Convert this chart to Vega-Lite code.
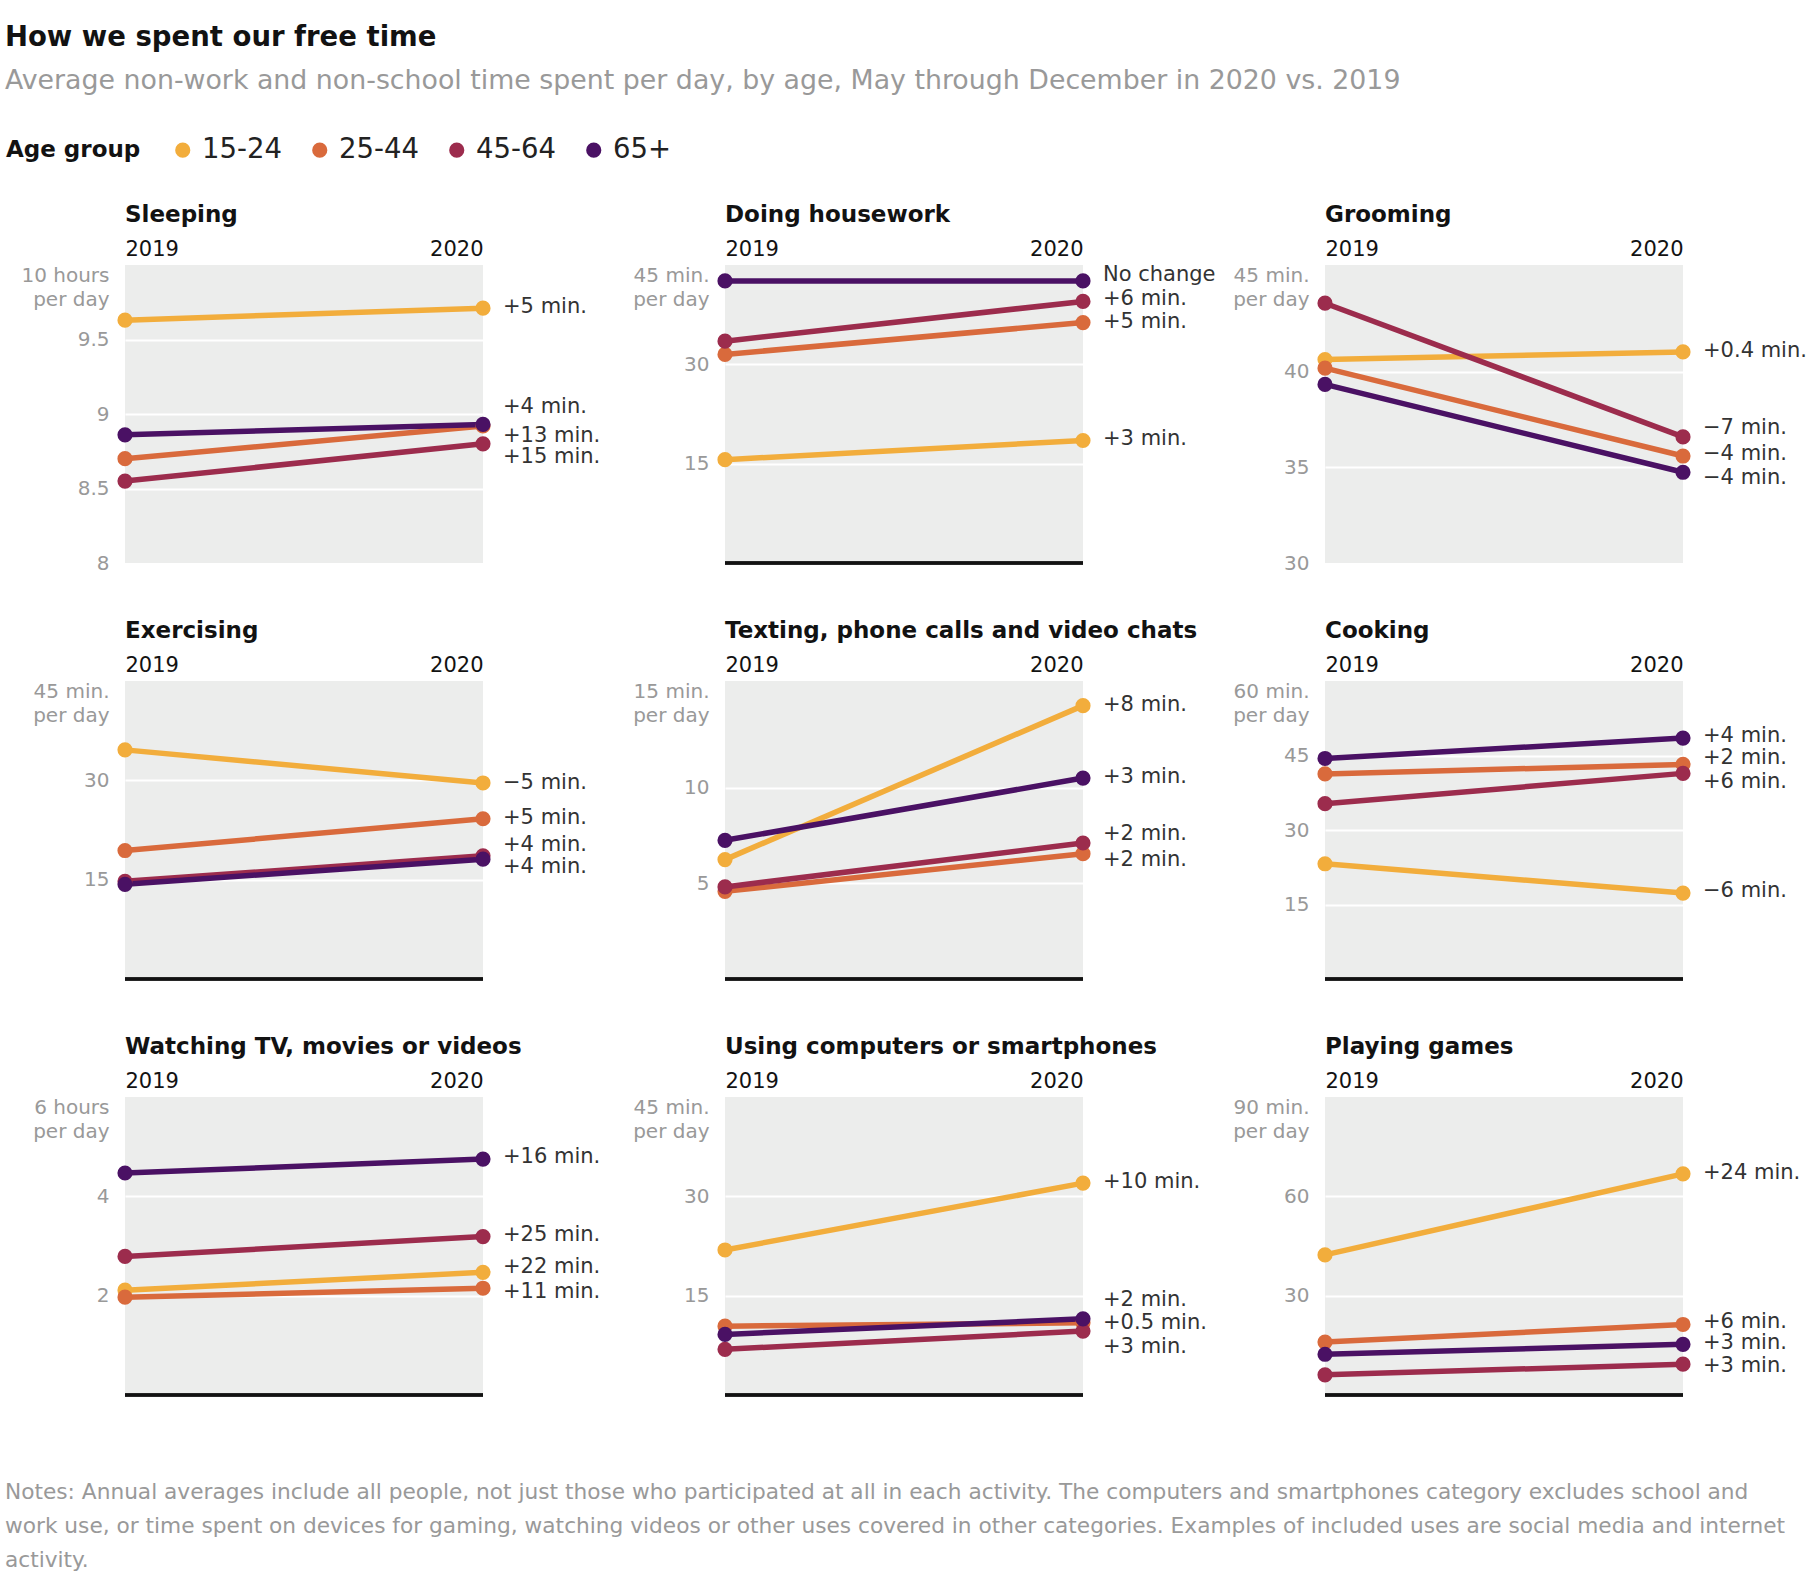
{
  "$schema": "https://vega.github.io/schema/vega-lite/v6.json",
  "background": "white",
  "padding": {"left": 4, "top": 23, "right": 4, "bottom": 6},
  "title": {
    "text": "How we spent our free time",
    "subtitle": "Average non-work and non-school time spent per day, by age, May through December in 2020 vs. 2019",
    "anchor": "start", "frame": "bounds", "fontSize": 27.5, "fontWeight": "bold", "color": "#121212",
    "subtitleFontSize": 26.8, "subtitleColor": "#999999", "subtitlePadding": 17, "offset": 41
  },
  "datasets": {
    "rows": [
      {"activity": "Sleeping", "age": "15-24", "year": "2019", "value": 9.63},
      {"activity": "Sleeping", "age": "15-24", "year": "2020", "value": 9.71, "note": "+5 min.", "noteAt": 9.717},
      {"activity": "Sleeping", "age": "25-44", "year": "2019", "value": 8.70},
      {"activity": "Sleeping", "age": "25-44", "year": "2020", "value": 8.92, "note": "+13 min.", "noteAt": 8.855},
      {"activity": "Sleeping", "age": "45-64", "year": "2019", "value": 8.55},
      {"activity": "Sleeping", "age": "45-64", "year": "2020", "value": 8.80, "note": "+15 min.", "noteAt": 8.711},
      {"activity": "Sleeping", "age": "65+", "year": "2019", "value": 8.86},
      {"activity": "Sleeping", "age": "65+", "year": "2020", "value": 8.93, "note": "+4 min.", "noteAt": 9.044},

      {"activity": "Housework", "age": "15-24", "year": "2019", "value": 15.6},
      {"activity": "Housework", "age": "15-24", "year": "2020", "value": 18.5, "note": "+3 min.", "noteAt": 18.75},
      {"activity": "Housework", "age": "25-44", "year": "2019", "value": 31.5},
      {"activity": "Housework", "age": "25-44", "year": "2020", "value": 36.3, "note": "+5 min.", "noteAt": 36.4},
      {"activity": "Housework", "age": "45-64", "year": "2019", "value": 33.5},
      {"activity": "Housework", "age": "45-64", "year": "2020", "value": 39.5, "note": "+6 min.", "noteAt": 39.9},
      {"activity": "Housework", "age": "65+", "year": "2019", "value": 42.6},
      {"activity": "Housework", "age": "65+", "year": "2020", "value": 42.6, "note": "No change", "noteAt": 43.5},

      {"activity": "Grooming", "age": "15-24", "year": "2019", "value": 40.65},
      {"activity": "Grooming", "age": "15-24", "year": "2020", "value": 41.05, "note": "+0.4 min.", "noteAt": 41.1},
      {"activity": "Grooming", "age": "25-44", "year": "2019", "value": 40.2},
      {"activity": "Grooming", "age": "25-44", "year": "2020", "value": 35.6, "note": "−4 min.", "noteAt": 35.73},
      {"activity": "Grooming", "age": "45-64", "year": "2019", "value": 43.6},
      {"activity": "Grooming", "age": "45-64", "year": "2020", "value": 36.6, "note": "−7 min.", "noteAt": 37.07},
      {"activity": "Grooming", "age": "65+", "year": "2019", "value": 39.35},
      {"activity": "Grooming", "age": "65+", "year": "2020", "value": 34.75, "note": "−4 min.", "noteAt": 34.47},

      {"activity": "Exercising", "age": "15-24", "year": "2019", "value": 34.6},
      {"activity": "Exercising", "age": "15-24", "year": "2020", "value": 29.6, "note": "−5 min.", "noteAt": 29.6},
      {"activity": "Exercising", "age": "25-44", "year": "2019", "value": 19.4},
      {"activity": "Exercising", "age": "25-44", "year": "2020", "value": 24.2, "note": "+5 min.", "noteAt": 24.3},
      {"activity": "Exercising", "age": "45-64", "year": "2019", "value": 14.75},
      {"activity": "Exercising", "age": "45-64", "year": "2020", "value": 18.6, "note": "+4 min.", "noteAt": 20.3},
      {"activity": "Exercising", "age": "65+", "year": "2019", "value": 14.3},
      {"activity": "Exercising", "age": "65+", "year": "2020", "value": 18.1, "note": "+4 min.", "noteAt": 16.9},

      {"activity": "Texting", "age": "15-24", "year": "2019", "value": 6.25},
      {"activity": "Texting", "age": "15-24", "year": "2020", "value": 14.31, "note": "+8 min.", "noteAt": 14.36},
      {"activity": "Texting", "age": "25-44", "year": "2019", "value": 4.59},
      {"activity": "Texting", "age": "25-44", "year": "2020", "value": 6.56, "note": "+2 min.", "noteAt": 6.25},
      {"activity": "Texting", "age": "45-64", "year": "2019", "value": 4.82},
      {"activity": "Texting", "age": "45-64", "year": "2020", "value": 7.12, "note": "+2 min.", "noteAt": 7.61},
      {"activity": "Texting", "age": "65+", "year": "2019", "value": 7.26},
      {"activity": "Texting", "age": "65+", "year": "2020", "value": 10.52, "note": "+3 min.", "noteAt": 10.58},

      {"activity": "Cooking", "age": "15-24", "year": "2019", "value": 23.2},
      {"activity": "Cooking", "age": "15-24", "year": "2020", "value": 17.3, "note": "−6 min.", "noteAt": 17.7},
      {"activity": "Cooking", "age": "25-44", "year": "2019", "value": 41.3},
      {"activity": "Cooking", "age": "25-44", "year": "2020", "value": 43.2, "note": "+2 min.", "noteAt": 44.4},
      {"activity": "Cooking", "age": "45-64", "year": "2019", "value": 35.3},
      {"activity": "Cooking", "age": "45-64", "year": "2020", "value": 41.4, "note": "+6 min.", "noteAt": 39.7},
      {"activity": "Cooking", "age": "65+", "year": "2019", "value": 44.4},
      {"activity": "Cooking", "age": "65+", "year": "2020", "value": 48.5, "note": "+4 min.", "noteAt": 48.9},

      {"activity": "TV", "age": "15-24", "year": "2019", "value": 2.11},
      {"activity": "TV", "age": "15-24", "year": "2020", "value": 2.47, "note": "+22 min.", "noteAt": 2.57},
      {"activity": "TV", "age": "25-44", "year": "2019", "value": 1.97},
      {"activity": "TV", "age": "25-44", "year": "2020", "value": 2.15, "note": "+11 min.", "noteAt": 2.07},
      {"activity": "TV", "age": "45-64", "year": "2019", "value": 2.79},
      {"activity": "TV", "age": "45-64", "year": "2020", "value": 3.19, "note": "+25 min.", "noteAt": 3.22},
      {"activity": "TV", "age": "65+", "year": "2019", "value": 4.47},
      {"activity": "TV", "age": "65+", "year": "2020", "value": 4.75, "note": "+16 min.", "noteAt": 4.79},

      {"activity": "Computers", "age": "15-24", "year": "2019", "value": 21.9},
      {"activity": "Computers", "age": "15-24", "year": "2020", "value": 32.0, "note": "+10 min.", "noteAt": 32.1},
      {"activity": "Computers", "age": "25-44", "year": "2019", "value": 10.4},
      {"activity": "Computers", "age": "25-44", "year": "2020", "value": 10.9, "note": "+0.5 min.", "noteAt": 10.9},
      {"activity": "Computers", "age": "45-64", "year": "2019", "value": 6.9},
      {"activity": "Computers", "age": "45-64", "year": "2020", "value": 9.65, "note": "+3 min.", "noteAt": 7.3},
      {"activity": "Computers", "age": "65+", "year": "2019", "value": 9.15},
      {"activity": "Computers", "age": "65+", "year": "2020", "value": 11.5, "note": "+2 min.", "noteAt": 14.4},

      {"activity": "Games", "age": "15-24", "year": "2019", "value": 42.3},
      {"activity": "Games", "age": "15-24", "year": "2020", "value": 66.8, "note": "+24 min.", "noteAt": 67.1},
      {"activity": "Games", "age": "25-44", "year": "2019", "value": 16.0},
      {"activity": "Games", "age": "25-44", "year": "2020", "value": 21.3, "note": "+6 min.", "noteAt": 22.0},
      {"activity": "Games", "age": "45-64", "year": "2019", "value": 6.1},
      {"activity": "Games", "age": "45-64", "year": "2020", "value": 9.3, "note": "+3 min.", "noteAt": 8.7},
      {"activity": "Games", "age": "65+", "year": "2019", "value": 12.3},
      {"activity": "Games", "age": "65+", "year": "2020", "value": 15.3, "note": "+3 min.", "noteAt": 15.6}
    ]
  },
  "vconcat": [
    {
      "title": {
        "text": [
          "Notes: Annual averages include all people, not just those who participated at all in each activity. The computers and smartphones category excludes school and",
          "work use, or time spent on devices for gaming, watching videos or other uses covered in other categories. Examples of included uses are social media and internet",
          "activity."
        ],
        "orient": "bottom", "anchor": "start", "frame": "bounds", "fontSize": 21.7, "fontWeight": "normal",
        "color": "#999999", "lineHeight": 34, "offset": 86, "dx": -16
      },
      "columns": 3,
      "spacing": {"row": 118, "column": 242},
      "bounds": "flush",
      "concat": [
        {
          "title": "Sleeping",
          "width": 358, "height": 298,
          "data": {"name": "rows"},
          "transform": [{"filter": "datum.activity == 'Sleeping'"}],
          "encoding": {
            "x": {"field": "year", "type": "ordinal", "title": null, "scale": {"type": "point", "padding": 0},
                  "axis": {"orient": "top", "labelAlign": {"condition": {"test": "datum.value == '2019'", "value": "left"}, "value": "right"}}},
            "y": {"field": "value", "type": "quantitative", "title": null, "scale": {"domain": [8, 10], "zero": false, "nice": false},
                  "axis": {"values": [8, 8.5, 9, 9.5, 10],
                           "labelExpr": "datum.value == 10 ? ['10 hours', 'per day'] : '' + datum.value",
                           "labelBaseline": {"condition": {"test": "datum.value == 10", "value": "top"}, "value": "middle"},
                           "gridOpacity": {"condition": {"test": "datum.value == 10 || datum.value == 8", "value": 0}, "value": 1}}},
            "color": {"field": "age", "type": "nominal",
                      "legend": {"title": "Age group", "orient": "none", "legendX": -119, "legendY": -129, "direction": "horizontal", "titleOrient": "left"}}
          },
          "layer": [
            {"mark": {"type": "line", "strokeWidth": 5.5}},
            {"mark": {"type": "circle", "size": 230, "opacity": 1}},
            {"transform": [{"filter": "datum.year == '2020'"}],
             "mark": {"type": "text", "align": "left", "baseline": "middle", "dx": 20, "fontSize": 21},
             "encoding": {"y": {"field": "noteAt", "type": "quantitative", "title": null, "scale": {"domain": [8, 10], "zero": false, "nice": false}},
                          "text": {"field": "note"}, "color": {"value": "#333333"}}}
          ]
        },
        {
          "title": "Doing housework",
          "width": 358, "height": 298,
          "data": {"name": "rows"},
          "transform": [{"filter": "datum.activity == 'Housework'"}],
          "encoding": {
            "x": {"field": "year", "type": "ordinal", "title": null, "scale": {"type": "point", "padding": 0},
                  "axis": {"orient": "top", "labelAlign": {"condition": {"test": "datum.value == '2019'", "value": "left"}, "value": "right"}}},
            "y": {"field": "value", "type": "quantitative", "title": null, "scale": {"domain": [0, 45], "nice": false},
                  "axis": {"values": [15, 30, 45],
                           "labelExpr": "datum.value == 45 ? ['45 min.', 'per day'] : '' + datum.value",
                           "labelBaseline": {"condition": {"test": "datum.value == 45", "value": "top"}, "value": "middle"},
                           "gridOpacity": {"condition": {"test": "datum.value == 45", "value": 0}, "value": 1}}},
            "color": {"field": "age", "type": "nominal", "legend": null}
          },
          "layer": [
            {"mark": {"type": "rule", "strokeWidth": 2.5},
             "encoding": {"x": {"datum": "2019", "type": "ordinal"}, "x2": {"datum": "2020"}, "y": {"datum": 0}, "color": {"value": "#121212"}}},
            {"mark": {"type": "line", "strokeWidth": 5.5}},
            {"mark": {"type": "circle", "size": 230, "opacity": 1}},
            {"transform": [{"filter": "datum.year == '2020'"}],
             "mark": {"type": "text", "align": "left", "baseline": "middle", "dx": 20, "fontSize": 21},
             "encoding": {"y": {"field": "noteAt", "type": "quantitative", "title": null, "scale": {"domain": [0, 45], "nice": false}},
                          "text": {"field": "note"}, "color": {"value": "#333333"}}}
          ]
        },
        {
          "title": "Grooming",
          "width": 358, "height": 298,
          "data": {"name": "rows"},
          "transform": [{"filter": "datum.activity == 'Grooming'"}],
          "encoding": {
            "x": {"field": "year", "type": "ordinal", "title": null, "scale": {"type": "point", "padding": 0},
                  "axis": {"orient": "top", "labelAlign": {"condition": {"test": "datum.value == '2019'", "value": "left"}, "value": "right"}}},
            "y": {"field": "value", "type": "quantitative", "title": null, "scale": {"domain": [30, 45.6], "zero": false, "nice": false},
                  "axis": {"values": [30, 35, 40, 45.6],
                           "labelExpr": "datum.value > 45 ? ['45 min.', 'per day'] : '' + datum.value",
                           "labelBaseline": {"condition": {"test": "datum.value > 45", "value": "top"}, "value": "middle"},
                           "gridOpacity": {"condition": {"test": "datum.value > 45 || datum.value == 30", "value": 0}, "value": 1}}},
            "color": {"field": "age", "type": "nominal", "legend": null}
          },
          "layer": [
            {"mark": {"type": "line", "strokeWidth": 5.5}},
            {"mark": {"type": "circle", "size": 230, "opacity": 1}},
            {"transform": [{"filter": "datum.year == '2020'"}],
             "mark": {"type": "text", "align": "left", "baseline": "middle", "dx": 20, "fontSize": 21},
             "encoding": {"y": {"field": "noteAt", "type": "quantitative", "title": null, "scale": {"domain": [30, 45.6], "zero": false, "nice": false}},
                          "text": {"field": "note"}, "color": {"value": "#333333"}}}
          ]
        },
        {
          "title": "Exercising",
          "width": 358, "height": 298,
          "data": {"name": "rows"},
          "transform": [{"filter": "datum.activity == 'Exercising'"}],
          "encoding": {
            "x": {"field": "year", "type": "ordinal", "title": null, "scale": {"type": "point", "padding": 0},
                  "axis": {"orient": "top", "labelAlign": {"condition": {"test": "datum.value == '2019'", "value": "left"}, "value": "right"}}},
            "y": {"field": "value", "type": "quantitative", "title": null, "scale": {"domain": [0, 45], "nice": false},
                  "axis": {"values": [15, 30, 45],
                           "labelExpr": "datum.value == 45 ? ['45 min.', 'per day'] : '' + datum.value",
                           "labelBaseline": {"condition": {"test": "datum.value == 45", "value": "top"}, "value": "middle"},
                           "gridOpacity": {"condition": {"test": "datum.value == 45", "value": 0}, "value": 1}}},
            "color": {"field": "age", "type": "nominal", "legend": null}
          },
          "layer": [
            {"mark": {"type": "rule", "strokeWidth": 2.5},
             "encoding": {"x": {"datum": "2019", "type": "ordinal"}, "x2": {"datum": "2020"}, "y": {"datum": 0}, "color": {"value": "#121212"}}},
            {"mark": {"type": "line", "strokeWidth": 5.5}},
            {"mark": {"type": "circle", "size": 230, "opacity": 1}},
            {"transform": [{"filter": "datum.year == '2020'"}],
             "mark": {"type": "text", "align": "left", "baseline": "middle", "dx": 20, "fontSize": 21},
             "encoding": {"y": {"field": "noteAt", "type": "quantitative", "title": null, "scale": {"domain": [0, 45], "nice": false}},
                          "text": {"field": "note"}, "color": {"value": "#333333"}}}
          ]
        },
        {
          "title": "Texting, phone calls and video chats",
          "width": 358, "height": 298,
          "data": {"name": "rows"},
          "transform": [{"filter": "datum.activity == 'Texting'"}],
          "encoding": {
            "x": {"field": "year", "type": "ordinal", "title": null, "scale": {"type": "point", "padding": 0},
                  "axis": {"orient": "top", "labelAlign": {"condition": {"test": "datum.value == '2019'", "value": "left"}, "value": "right"}}},
            "y": {"field": "value", "type": "quantitative", "title": null, "scale": {"domain": [0, 15.6], "nice": false},
                  "axis": {"values": [5, 10, 15.6],
                           "labelExpr": "datum.value > 15 ? ['15 min.', 'per day'] : '' + datum.value",
                           "labelBaseline": {"condition": {"test": "datum.value > 15", "value": "top"}, "value": "middle"},
                           "gridOpacity": {"condition": {"test": "datum.value > 15", "value": 0}, "value": 1}}},
            "color": {"field": "age", "type": "nominal", "legend": null}
          },
          "layer": [
            {"mark": {"type": "rule", "strokeWidth": 2.5},
             "encoding": {"x": {"datum": "2019", "type": "ordinal"}, "x2": {"datum": "2020"}, "y": {"datum": 0}, "color": {"value": "#121212"}}},
            {"mark": {"type": "line", "strokeWidth": 5.5}},
            {"mark": {"type": "circle", "size": 230, "opacity": 1}},
            {"transform": [{"filter": "datum.year == '2020'"}],
             "mark": {"type": "text", "align": "left", "baseline": "middle", "dx": 20, "fontSize": 21},
             "encoding": {"y": {"field": "noteAt", "type": "quantitative", "title": null, "scale": {"domain": [0, 15.6], "nice": false}},
                          "text": {"field": "note"}, "color": {"value": "#333333"}}}
          ]
        },
        {
          "title": "Cooking",
          "width": 358, "height": 298,
          "data": {"name": "rows"},
          "transform": [{"filter": "datum.activity == 'Cooking'"}],
          "encoding": {
            "x": {"field": "year", "type": "ordinal", "title": null, "scale": {"type": "point", "padding": 0},
                  "axis": {"orient": "top", "labelAlign": {"condition": {"test": "datum.value == '2019'", "value": "left"}, "value": "right"}}},
            "y": {"field": "value", "type": "quantitative", "title": null, "scale": {"domain": [0, 60], "nice": false},
                  "axis": {"values": [15, 30, 45, 60],
                           "labelExpr": "datum.value == 60 ? ['60 min.', 'per day'] : '' + datum.value",
                           "labelBaseline": {"condition": {"test": "datum.value == 60", "value": "top"}, "value": "middle"},
                           "gridOpacity": {"condition": {"test": "datum.value == 60", "value": 0}, "value": 1}}},
            "color": {"field": "age", "type": "nominal", "legend": null}
          },
          "layer": [
            {"mark": {"type": "rule", "strokeWidth": 2.5},
             "encoding": {"x": {"datum": "2019", "type": "ordinal"}, "x2": {"datum": "2020"}, "y": {"datum": 0}, "color": {"value": "#121212"}}},
            {"mark": {"type": "line", "strokeWidth": 5.5}},
            {"mark": {"type": "circle", "size": 230, "opacity": 1}},
            {"transform": [{"filter": "datum.year == '2020'"}],
             "mark": {"type": "text", "align": "left", "baseline": "middle", "dx": 20, "fontSize": 21},
             "encoding": {"y": {"field": "noteAt", "type": "quantitative", "title": null, "scale": {"domain": [0, 60], "nice": false}},
                          "text": {"field": "note"}, "color": {"value": "#333333"}}}
          ]
        },
        {
          "title": "Watching TV, movies or videos",
          "width": 358, "height": 298,
          "data": {"name": "rows"},
          "transform": [{"filter": "datum.activity == 'TV'"}],
          "encoding": {
            "x": {"field": "year", "type": "ordinal", "title": null, "scale": {"type": "point", "padding": 0},
                  "axis": {"orient": "top", "labelAlign": {"condition": {"test": "datum.value == '2019'", "value": "left"}, "value": "right"}}},
            "y": {"field": "value", "type": "quantitative", "title": null, "scale": {"domain": [0, 6], "nice": false},
                  "axis": {"values": [2, 4, 6],
                           "labelExpr": "datum.value == 6 ? ['6 hours', 'per day'] : '' + datum.value",
                           "labelBaseline": {"condition": {"test": "datum.value == 6", "value": "top"}, "value": "middle"},
                           "gridOpacity": {"condition": {"test": "datum.value == 6", "value": 0}, "value": 1}}},
            "color": {"field": "age", "type": "nominal", "legend": null}
          },
          "layer": [
            {"mark": {"type": "rule", "strokeWidth": 2.5},
             "encoding": {"x": {"datum": "2019", "type": "ordinal"}, "x2": {"datum": "2020"}, "y": {"datum": 0}, "color": {"value": "#121212"}}},
            {"mark": {"type": "line", "strokeWidth": 5.5}},
            {"mark": {"type": "circle", "size": 230, "opacity": 1}},
            {"transform": [{"filter": "datum.year == '2020'"}],
             "mark": {"type": "text", "align": "left", "baseline": "middle", "dx": 20, "fontSize": 21},
             "encoding": {"y": {"field": "noteAt", "type": "quantitative", "title": null, "scale": {"domain": [0, 6], "nice": false}},
                          "text": {"field": "note"}, "color": {"value": "#333333"}}}
          ]
        },
        {
          "title": "Using computers or smartphones",
          "width": 358, "height": 298,
          "data": {"name": "rows"},
          "transform": [{"filter": "datum.activity == 'Computers'"}],
          "encoding": {
            "x": {"field": "year", "type": "ordinal", "title": null, "scale": {"type": "point", "padding": 0},
                  "axis": {"orient": "top", "labelAlign": {"condition": {"test": "datum.value == '2019'", "value": "left"}, "value": "right"}}},
            "y": {"field": "value", "type": "quantitative", "title": null, "scale": {"domain": [0, 45], "nice": false},
                  "axis": {"values": [15, 30, 45],
                           "labelExpr": "datum.value == 45 ? ['45 min.', 'per day'] : '' + datum.value",
                           "labelBaseline": {"condition": {"test": "datum.value == 45", "value": "top"}, "value": "middle"},
                           "gridOpacity": {"condition": {"test": "datum.value == 45", "value": 0}, "value": 1}}},
            "color": {"field": "age", "type": "nominal", "legend": null}
          },
          "layer": [
            {"mark": {"type": "rule", "strokeWidth": 2.5},
             "encoding": {"x": {"datum": "2019", "type": "ordinal"}, "x2": {"datum": "2020"}, "y": {"datum": 0}, "color": {"value": "#121212"}}},
            {"mark": {"type": "line", "strokeWidth": 5.5}},
            {"mark": {"type": "circle", "size": 230, "opacity": 1}},
            {"transform": [{"filter": "datum.year == '2020'"}],
             "mark": {"type": "text", "align": "left", "baseline": "middle", "dx": 20, "fontSize": 21},
             "encoding": {"y": {"field": "noteAt", "type": "quantitative", "title": null, "scale": {"domain": [0, 45], "nice": false}},
                          "text": {"field": "note"}, "color": {"value": "#333333"}}}
          ]
        },
        {
          "title": "Playing games",
          "width": 358, "height": 298,
          "data": {"name": "rows"},
          "transform": [{"filter": "datum.activity == 'Games'"}],
          "encoding": {
            "x": {"field": "year", "type": "ordinal", "title": null, "scale": {"type": "point", "padding": 0},
                  "axis": {"orient": "top", "labelAlign": {"condition": {"test": "datum.value == '2019'", "value": "left"}, "value": "right"}}},
            "y": {"field": "value", "type": "quantitative", "title": null, "scale": {"domain": [0, 90], "nice": false},
                  "axis": {"values": [30, 60, 90],
                           "labelExpr": "datum.value == 90 ? ['90 min.', 'per day'] : '' + datum.value",
                           "labelBaseline": {"condition": {"test": "datum.value == 90", "value": "top"}, "value": "middle"},
                           "gridOpacity": {"condition": {"test": "datum.value == 90", "value": 0}, "value": 1}}},
            "color": {"field": "age", "type": "nominal", "legend": null}
          },
          "layer": [
            {"mark": {"type": "rule", "strokeWidth": 2.5},
             "encoding": {"x": {"datum": "2019", "type": "ordinal"}, "x2": {"datum": "2020"}, "y": {"datum": 0}, "color": {"value": "#121212"}}},
            {"mark": {"type": "line", "strokeWidth": 5.5}},
            {"mark": {"type": "circle", "size": 230, "opacity": 1}},
            {"transform": [{"filter": "datum.year == '2020'"}],
             "mark": {"type": "text", "align": "left", "baseline": "middle", "dx": 20, "fontSize": 21},
             "encoding": {"y": {"field": "noteAt", "type": "quantitative", "title": null, "scale": {"domain": [0, 90], "nice": false}},
                          "text": {"field": "note"}, "color": {"value": "#333333"}}}
          ]
        }
      ]
    }
  ],
  "config": {
    "font": "DejaVu Sans",
    "view": {"fill": "#ECEDEC", "stroke": null},
    "range": {"category": ["#F2AD3C", "#D96A3C", "#9C2C4D", "#4A1164"]},
    "axisX": {"domain": false, "ticks": false, "grid": false, "labelFontSize": 21, "labelColor": "#121212", "labelPadding": 6, "labelAngle": 0},
    "axisY": {"domain": false, "ticks": false, "grid": true, "gridColor": "#ffffff", "gridWidth": 2, "labelFontSize": 20, "labelColor": "#999999", "labelPadding": 16, "labelLineHeight": 24, "labelOverlap": false},
    "title": {"anchor": "start", "frame": "group", "fontSize": 23, "fontWeight": "bold", "color": "#121212", "offset": 11.5},
    "legend": {"titleFontSize": 23, "titleFontWeight": "bold", "titleColor": "#121212", "labelFontSize": 27.5, "labelColor": "#222222",
               "symbolType": "circle", "symbolSize": 230, "symbolStrokeWidth": 0, "symbolOpacity": 1, "labelOffset": 5.5, "columnPadding": 24, "titlePadding": 28}
  }
}
